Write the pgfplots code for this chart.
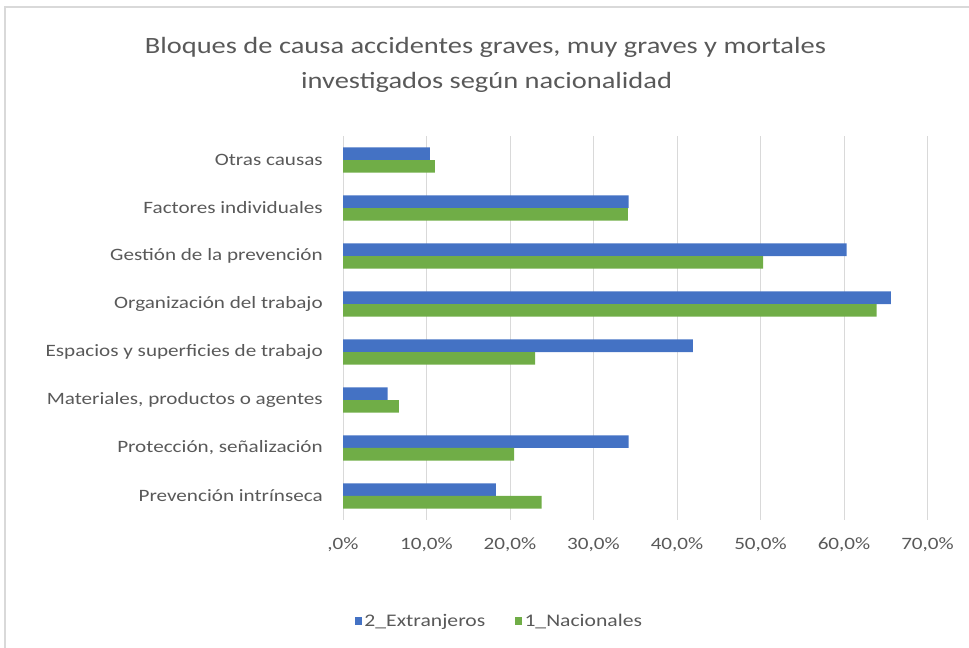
\documentclass[border=0pt]{standalone}
\usepackage{pgfplots}
\pgfplotsset{compat=1.18}
\usepackage{fontspec}
\setmainfont{Carlito}[FakeStretch=1.22]
\definecolor{cblue}{HTML}{4472C4}
\definecolor{cgreen}{HTML}{70AD47}
\definecolor{ctext}{HTML}{595959}
\definecolor{cgrid}{HTML}{D9D9D9}
\begin{document}
\begin{tikzpicture}
\path[use as bounding box] (0,0) rectangle (726.75pt,486pt);
\draw[cgrid, line width=0.9pt] (3.75pt,0) -- (3.75pt,480.75pt) -- (726.75pt,480.75pt);
\node[text=ctext, font=\fontsize{17.5pt}{21pt}\selectfont] at (364pt,450.75pt) {Bloques de causa accidentes graves, muy graves y mortales};
\node[text=ctext, font=\fontsize{17.5pt}{21pt}\selectfont] at (365pt,424.5pt) {investigados según nacionalidad};
\begin{axis}[
  at={(257.25pt,96pt)}, anchor=south west,
  scale only axis, width=438.4pt, height=288pt,
  xbar, bar width=9.5pt,
  xmin=0, xmax=70, ymin=-0.5, ymax=7.5,
  axis line style={draw=none},
  xmajorgrids, grid style={cgrid, line width=0.75pt},
  major tick length=0pt,
  xtick={0,10,20,30,40,50,60,70},
  xticklabels={{,0\%},{10,0\%},{20,0\%},{30,0\%},{40,0\%},{50,0\%},{60,0\%},{70,0\%}},
  ytick={0,1,2,3,4,5,6,7},
  yticklabels={Prevención intrínseca,{Protección, señalización},{Materiales, productos o agentes},Espacios y superficies de trabajo,Organización del trabajo,Gestión de la prevención,Factores individuales,Otras causas},
  tick label style={text=ctext, font=\fontsize{13pt}{15pt}\selectfont},
  xticklabel style={anchor=center, yshift=-18.75pt},
  yticklabel style={anchor=east, inner sep=0pt, xshift=-15pt},
  legend style={at={(0.268,-0.263)}, anchor=center, draw=none, fill=none,
    legend columns=2, font=\fontsize{13.3pt}{15pt}\selectfont, text=ctext,
    /tikz/every even column/.append style={column sep=20pt}},
  legend image code/.code={\fill[#1] (0pt,-2.7pt) rectangle (5.4pt,2.7pt);},
]
\addplot[fill=cblue, draw=none, bar shift=4.75pt] coordinates {
(18.3,0) (34.2,1) (5.35,2) (41.9,3) (65.6,4) (60.3,5) (34.2,6) (10.4,7)};
\addlegendentry{2\_Extranjeros}
\addplot[fill=cgreen, draw=none, bar shift=-4.75pt] coordinates {
(23.8,0) (20.5,1) (6.7,2) (23.0,3) (63.9,4) (50.3,5) (34.1,6) (11.0,7)};
\addlegendentry{1\_Nacionales}
\end{axis}
\end{tikzpicture}
\end{document}
